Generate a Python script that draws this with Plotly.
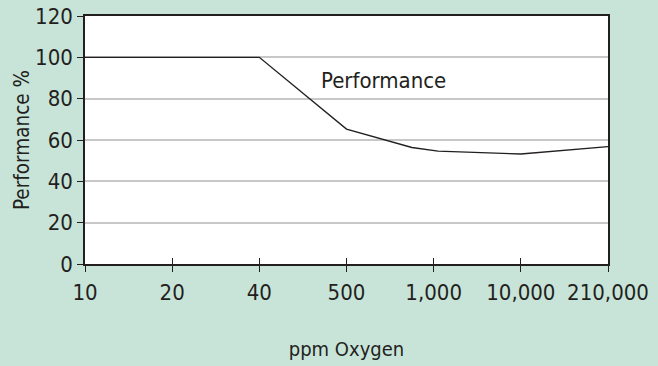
import plotly.graph_objects as go

# Oxygen concentration categories (evenly spaced on the axis)
oxygen_labels = ["10", "20", "40", "500", "1,000", "10,000", "210,000"]
oxygen_positions = [0, 1, 2, 3, 4, 5, 6]

# Performance curve, positioned along the category index
curve_x = [0, 1, 2, 3, 3.75, 4.05, 5, 6]
curve_y = [100, 100, 100, 65.3, 56.4, 54.6, 53.2, 56.8]

y_ticks = [0, 20, 40, 60, 80, 100, 120]

ink = "#231f20"
bg = "#c8e4d8"
font_family = "DejaVu Sans Condensed, Liberation Sans Narrow, sans-serif"

fig = go.Figure()
fig.add_trace(go.Scatter(
    x=curve_x, y=curve_y, mode="lines",
    line=dict(color=ink, width=1.4),
    showlegend=False, hoverinfo="skip",
))

fig.add_annotation(
    x=3.43, y=89, text="Performance", showarrow=False,
    font=dict(family=font_family, size=22, color=ink),
)

fig.update_layout(
    width=658, height=366,
    margin=dict(l=85, r=50, t=16, b=102),
    paper_bgcolor=bg, plot_bgcolor="white",
    font=dict(family=font_family, size=22, color=ink),
    xaxis=dict(
        range=[0, 6], tickmode="array", automargin=False,
        tickvals=oxygen_positions, ticktext=oxygen_labels,
        ticks="outside", ticklen=6, tickwidth=1.2, tickcolor=ink,
        showline=True, linecolor=ink, linewidth=1.5, mirror=True,
        showgrid=False, zeroline=False,
        ticklabelstandoff=2,
        title=dict(text="ppm Oxygen", standoff=38,
                   font=dict(family=font_family, size=20, color=ink)),
    ),
    xaxis2=dict(
        range=[0, 6], overlaying="x", matches="x", tickmode="array",
        tickvals=oxygen_positions, ticks="inside", ticklen=6,
        tickwidth=1.2, tickcolor=ink, showticklabels=False,
        showgrid=False, zeroline=False, showline=False, automargin=False,
    ),
    yaxis=dict(
        range=[0, 120], tickmode="array", tickvals=y_ticks, automargin=False,
        ticks="outside", ticklen=6, tickwidth=1.2, tickcolor=ink,
        showline=True, linecolor=ink, linewidth=1.5, mirror=True,
        showgrid=True, gridcolor="#c8c8c8", gridwidth=1.5,
        zeroline=False,
        title=dict(text="Performance %", standoff=0,
                   font=dict(family=font_family, size=20.5, color=ink)),
    ),
)

# invisible trace to activate the second x axis carrying the inner tick marks
fig.add_trace(go.Scatter(x=[0], y=[0], xaxis="x2", mode="markers",
                         marker=dict(opacity=0), showlegend=False,
                         hoverinfo="skip"))

fig.write_html("out.html")
